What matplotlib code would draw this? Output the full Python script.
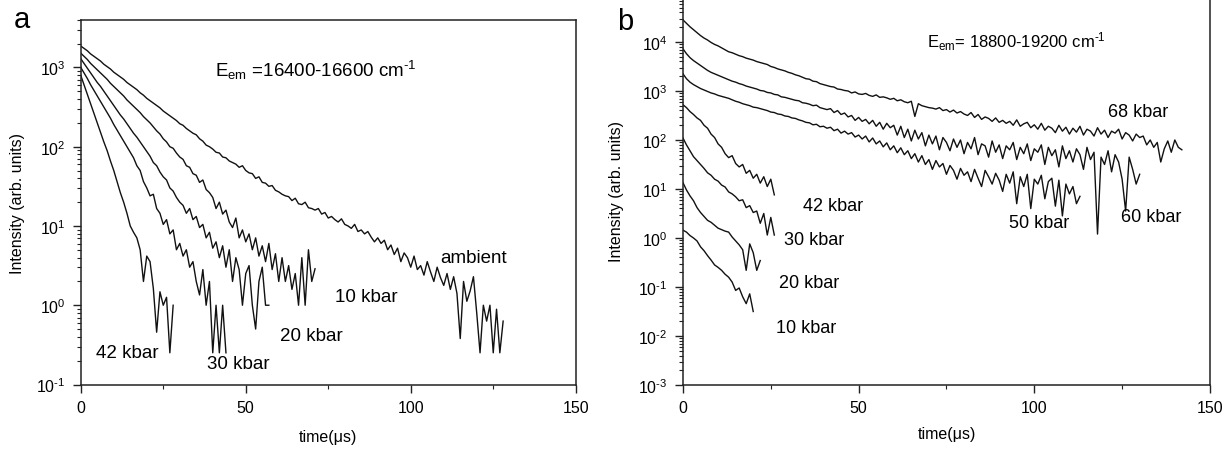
import numpy as np
import matplotlib
matplotlib.use('Agg')
import matplotlib.pyplot as plt
from matplotlib.ticker import LogLocator, FuncFormatter, MultipleLocator, NullFormatter

plt.rcParams['font.family'] = ['Liberation Sans', 'DejaVu Sans']
plt.rcParams['mathtext.fontset'] = 'custom'
plt.rcParams['mathtext.rm'] = 'Liberation Sans'
plt.rcParams['mathtext.it'] = 'Liberation Sans:italic'
plt.rcParams['mathtext.bf'] = 'Liberation Sans:bold'
plt.rcParams['axes.unicode_minus'] = False

# ---- panel a : log10 intensity, one point per microsecond ----
a_ambient = [3.27, 3.24, 3.21, 3.17, 3.14, 3.11, 3.08, 3.04, 3.01, 2.98, 2.94,
             2.91, 2.88, 2.85, 2.81, 2.78, 2.75, 2.72, 2.68, 2.65, 2.61,
             2.58, 2.55, 2.52, 2.49, 2.45, 2.42, 2.39, 2.36, 2.33, 2.29,
             2.27, 2.23, 2.20, 2.17, 2.15, 2.10, 2.07, 2.02, 2.00, 1.97,
             1.93, 1.92, 1.87, 1.86, 1.82, 1.80, 1.78, 1.74, 1.76, 1.70,
             1.67, 1.66, 1.60, 1.62, 1.55, 1.54, 1.50, 1.51, 1.45, 1.43,
             1.40, 1.38, 1.37, 1.32, 1.35, 1.28, 1.27, 1.30, 1.23, 1.22,
             1.20, 1.22, 1.15, 1.17, 1.10, 1.12, 1.08, 1.05, 1.09, 1.02,
             1.00, 0.97, 1.02, 0.93, 0.95, 0.90, 0.93, 0.86, 0.80, 0.85,
             0.78, 0.82, 0.70, 0.76, 0.64, 0.72, 0.55, 0.66, 0.60, 0.48,
             0.62, 0.45, 0.50, 0.38, 0.55, 0.42, 0.30, 0.48, 0.35, 0.25,
             0.40, 0.20, 0.36, 0.15, -0.42, 0.30, 0.05, 0.18, 0.36, -0.10,
             -0.60, 0.00, -0.20, 0.00, -0.60, -0.05, -0.60, -0.20]
a_10kbar = [3.18, 3.14, 3.10, 3.05, 3.01, 2.97, 2.93, 2.89, 2.85, 2.80, 2.76,
            2.72, 2.68, 2.64, 2.59, 2.55, 2.51, 2.47, 2.43, 2.38, 2.34,
            2.30, 2.25, 2.20, 2.16, 2.10, 2.06, 2.00, 1.98, 1.92, 1.87,
            1.84, 1.76, 1.74, 1.66, 1.64, 1.55, 1.58, 1.46, 1.42, 1.36,
            1.22, 1.30, 1.15, 1.20, 1.05, 0.98, 1.10, 0.85, 0.95, 0.80,
            0.90, 0.70, 0.85, 0.62, 0.75, 0.55, 0.78, 0.45, 0.65, 0.30,
            0.60, 0.30, 0.50, 0.20, 0.40, 0.00, 0.60, 0.00, 0.70, 0.30, 0.46]
a_20kbar = [3.11, 3.05, 2.99, 2.93, 2.87, 2.81, 2.76, 2.70, 2.64, 2.58, 2.52,
            2.46, 2.40, 2.35, 2.29, 2.23, 2.17, 2.12, 2.06, 2.00, 1.94,
            1.88, 1.80, 1.76, 1.68, 1.62, 1.58, 1.48, 1.44, 1.36, 1.30,
            1.26, 1.16, 1.22, 1.08, 1.12, 0.98, 1.02, 0.85, 0.92, 0.72,
            0.80, 0.60, 0.75, 0.48, 0.70, 0.30, 0.60, 0.45, 0.00, 0.40,
            0.50, 0.00, -0.30, 0.30, 0.48, 0.00, 0.00]
a_30kbar = [3.00, 2.93, 2.86, 2.78, 2.71, 2.64, 2.57, 2.50, 2.43, 2.36, 2.28,
            2.21, 2.14, 2.07, 2.00, 1.93, 1.86, 1.76, 1.70, 1.56, 1.48,
            1.38, 1.40, 1.22, 1.16, 1.02, 1.08, 0.90, 0.95, 0.70, 0.78,
            0.62, 0.70, 0.48, 0.55, 0.30, 0.13, 0.45, 0.00, 0.30, -0.60,
            0.00, -0.60, 0.00, -0.60]
a_42kbar = [2.90, 2.78, 2.66, 2.54, 2.42, 2.30, 2.18, 2.06, 1.95, 1.82, 1.70,
            1.56, 1.42, 1.30, 1.16, 1.00, 0.92, 0.85, 0.70, 0.30, 0.62,
            0.55, 0.21, -0.34, 0.17, 0.00, 0.10, -0.60, 0.00]

a_curves = [a_ambient, a_10kbar, a_20kbar, a_30kbar, a_42kbar]
a_labels = ['ambient', '10 kbar', '20 kbar', '30 kbar', '42 kbar']
a_label_t = [109, 77, 60.3, 38.2, 4.6]
a_label_I = [3.5, 1.12, 0.36, 0.16, 0.22]

# ---- panel b ----
b_68kbar = [4.45, 4.38, 4.31, 4.25, 4.19, 4.13, 4.08, 4.04, 3.99, 3.95, 3.92,
            3.88, 3.84, 3.80, 3.78, 3.75, 3.72, 3.70, 3.67, 3.65, 3.63,
            3.60, 3.58, 3.56, 3.54, 3.50, 3.48, 3.45, 3.43, 3.41, 3.38,
            3.36, 3.33, 3.31, 3.28, 3.25, 3.24, 3.20, 3.19, 3.15, 3.13,
            3.11, 3.09, 3.08, 3.04, 3.03, 3.01, 3.00, 2.96, 2.98, 2.94,
            2.93, 2.95, 2.91, 2.89, 2.92, 2.87, 2.88, 2.86, 2.83, 2.85,
            2.80, 2.82, 2.78, 2.76, 2.79, 2.48, 2.74, 2.70, 2.68, 2.66,
            2.65, 2.63, 2.66, 2.60, 2.62, 2.57, 2.61, 2.55, 2.58, 2.53,
            2.50, 2.56, 2.46, 2.52, 2.42, 2.47, 2.44, 2.38, 2.45, 2.36,
            2.40, 2.34, 2.38, 2.30, 2.41, 2.28, 2.33, 2.36, 2.25, 2.31,
            2.22, 2.34, 2.20, 2.28, 2.24, 2.15, 2.30, 2.18, 2.26, 2.12,
            2.24, 2.16, 2.28, 2.10, 2.22, 2.18, 2.08, 2.25, 2.12, 2.20,
            2.05, 2.18, 2.14, 2.22, 2.02, 2.15, 2.10, 1.98, 2.12, 2.05,
            2.08, 1.90, 2.00, 1.85, 1.95, 1.55, 1.82, 1.98, 1.75, 2.00, 1.85, 1.80]
b_60kbar = [3.86, 3.76, 3.68, 3.62, 3.57, 3.52, 3.47, 3.42, 3.38, 3.35, 3.32,
            3.29, 3.26, 3.23, 3.20, 3.18, 3.15, 3.13, 3.10, 3.08, 3.06,
            3.04, 3.01, 3.00, 2.97, 2.96, 2.93, 2.92, 2.88, 2.87, 2.85,
            2.83, 2.81, 2.80, 2.76, 2.75, 2.73, 2.70, 2.71, 2.66, 2.64,
            2.62, 2.64, 2.56, 2.60, 2.52, 2.55, 2.47, 2.50, 2.40, 2.46,
            2.38, 2.42, 2.33, 2.40, 2.28, 2.36, 2.22, 2.34, 2.25, 2.30,
            2.10, 2.28, 2.05, 2.22, 1.98, 2.20, 2.02, 2.15, 1.88, 2.10,
            1.92, 2.08, 1.80, 2.05, 1.95, 1.78, 2.02, 1.85, 2.00, 1.72,
            1.95, 1.82, 2.05, 1.70, 1.92, 1.88, 1.65, 1.98, 1.75, 1.90,
            1.62, 1.88, 1.80, 1.95, 1.60, 1.85, 1.72, 1.92, 1.58, 1.82,
            1.75, 1.90, 1.50, 1.85, 1.68, 1.80, 1.45, 1.88, 1.62, 1.78,
            1.55, 1.82, 1.70, 1.40, 1.85, 1.60, 1.75, 0.08, 1.65, 1.50,
            1.78, 1.35, 1.70, 1.55, 1.20, 0.55, 1.65, 1.40, 1.10, 1.30]
b_50kbar = [3.35, 3.25, 3.18, 3.13, 3.09, 3.05, 3.02, 2.99, 2.96, 2.94, 2.91,
            2.89, 2.87, 2.85, 2.82, 2.79, 2.77, 2.74, 2.72, 2.70, 2.67,
            2.66, 2.64, 2.62, 2.60, 2.57, 2.56, 2.53, 2.52, 2.49, 2.48,
            2.45, 2.44, 2.41, 2.39, 2.36, 2.35, 2.31, 2.32, 2.27, 2.28,
            2.24, 2.26, 2.19, 2.22, 2.14, 2.18, 2.12, 2.15, 2.06, 2.10,
            2.02, 2.08, 1.96, 2.04, 1.92, 1.98, 1.86, 1.94, 1.80, 1.88,
            1.74, 1.84, 1.70, 1.78, 1.62, 1.72, 1.55, 1.68, 1.50, 1.60,
            1.40, 1.58, 1.45, 1.52, 1.30, 1.48, 1.38, 1.20, 1.42, 1.28,
            1.35, 1.15, 1.40, 1.22, 1.05, 1.38, 1.25, 1.10, 1.32, 1.18,
            0.95, 1.30, 1.12, 1.35, 0.70, 1.25, 1.05, 1.30, 0.60, 1.20,
            1.10, 1.28, 0.80, 1.15, 1.22, 0.65, 1.18, 0.45, 1.10, 0.90,
            1.05, 0.70, 0.85]
b_42kbar = [2.72, 2.66, 2.58, 2.52, 2.45, 2.40, 2.30, 2.24, 2.12, 2.05, 1.92,
            1.85, 1.72, 1.64, 1.68, 1.52, 1.45, 1.50, 1.32, 1.38, 1.22,
            1.30, 1.12, 1.25, 1.05, 1.20, 0.88]
b_30kbar = [2.04, 1.90, 1.78, 1.66, 1.58, 1.50, 1.42, 1.33, 1.28, 1.20, 1.16,
            1.08, 1.04, 0.94, 0.90, 0.84, 0.76, 0.78, 0.62, 0.66, 0.52,
            0.55, 0.30, 0.50, 0.06, 0.42, 0.06]
b_20kbar = [1.13, 0.98, 0.86, 0.76, 0.62, 0.52, 0.44, 0.36, 0.32, 0.26, 0.20,
            0.17, 0.14, 0.12, 0.02, -0.06, -0.14, -0.24, -0.66, -0.12, -0.30,
            -0.66, -0.46]
b_10kbar = [0.16, 0.12, 0.05, 0.00, -0.06, -0.18, -0.26, -0.36, -0.45, -0.55, -0.60,
            -0.66, -0.74, -0.80, -0.90, -1.07, -1.02, -1.20, -1.34, -1.14, -1.50]

b_curves = [b_68kbar, b_60kbar, b_50kbar, b_42kbar, b_30kbar, b_20kbar, b_10kbar]
b_labels = ['68 kbar', '60 kbar', '50 kbar', '42 kbar', '30 kbar', '20 kbar', '10 kbar']
b_label_t = [121, 124.6, 92.9, 34.3, 28.9, 27.2, 26.4]
b_label_I = [310, 2.2, 1.7, 3.8, 0.76, 0.10, 0.012]

dt = 1.0  # microseconds per point

fig = plt.figure(figsize=(12.31, 4.52), dpi=100)
ax1 = fig.add_axes([0.0656, 0.1471, 0.4021, 0.8071])
ax2 = fig.add_axes([0.5548, 0.1460, 0.4281, 0.8624])


def pow10(v, pos):
    return r'10$^{\text{%d}}$' % int(round(np.log10(v)))


def style(ax, ylo, yhi):
    ax.set_yscale('log')
    ax.set_xlim(0, 150)
    ax.set_ylim(ylo, yhi)
    ax.xaxis.set_major_locator(MultipleLocator(50))
    ax.xaxis.set_minor_locator(MultipleLocator(25))
    ax.yaxis.set_major_locator(LogLocator(base=10, numticks=20))
    ax.yaxis.set_minor_locator(LogLocator(base=10, subs=np.arange(2, 10), numticks=20))
    ax.yaxis.set_major_formatter(FuncFormatter(pow10))
    ax.yaxis.set_minor_formatter(NullFormatter())
    ax.tick_params(which='both', direction='out', top=False, right=False,
                   labelsize=11.5, color='#222222')
    ax.tick_params(which='major', length=6, width=1.0)
    ax.tick_params(which='minor', length=3, width=0.8)
    ax.tick_params(axis='x', pad=5)
    ax.tick_params(axis='y', pad=5)
    for s in ax.spines.values():
        s.set_linewidth(1.1)
        s.set_color('#222222')
    ax.set_xlabel('time(\u03bcs)', fontsize=11.5)
    ax.set_ylabel('Intensity (arb. units)', fontsize=11.5)


for v in a_curves:
    t = np.arange(len(v)) * dt
    ax1.plot(t, 10 ** np.array(v), color='#111111', lw=1.0)
for lab, x, y in zip(a_labels, a_label_t, a_label_I):
    ax1.text(x, y, lab, fontsize=13.5, ha='left', va='baseline')
ax1.text(40.6, 771, r'E$_{\rm em}$ =16400-16600 cm$^{\text{-1}}$', fontsize=13.5,
         ha='left', va='baseline')
style(ax1, 0.1, 4000)
ax1.xaxis.set_label_coords(0.5, -0.122)
ax1.yaxis.set_label_coords(-0.1125, 0.5)

for v in b_curves:
    t = np.arange(len(v)) * dt
    ax2.plot(t, 10 ** np.array(v), color='#111111', lw=1.0)
for lab, x, y in zip(b_labels, b_label_t, b_label_I):
    ax2.text(x, y, lab, fontsize=13, ha='left', va='baseline')
ax2.text(69.4, 8100, r'E$_{\rm em}$= 18800-19200 cm$^{\text{-1}}$', fontsize=12,
         ha='left', va='baseline')
style(ax2, 1e-3, 9e4)
ax2.xaxis.set_label_coords(0.5, -0.105)
ax2.yaxis.set_label_coords(-0.112, 0.5)

fig.text(0.0114, 0.938, 'a', fontsize=21, ha='left', va='baseline')
fig.text(0.501, 0.934, 'b', fontsize=21, ha='left', va='baseline')

fig.savefig('out.png', dpi=100)
